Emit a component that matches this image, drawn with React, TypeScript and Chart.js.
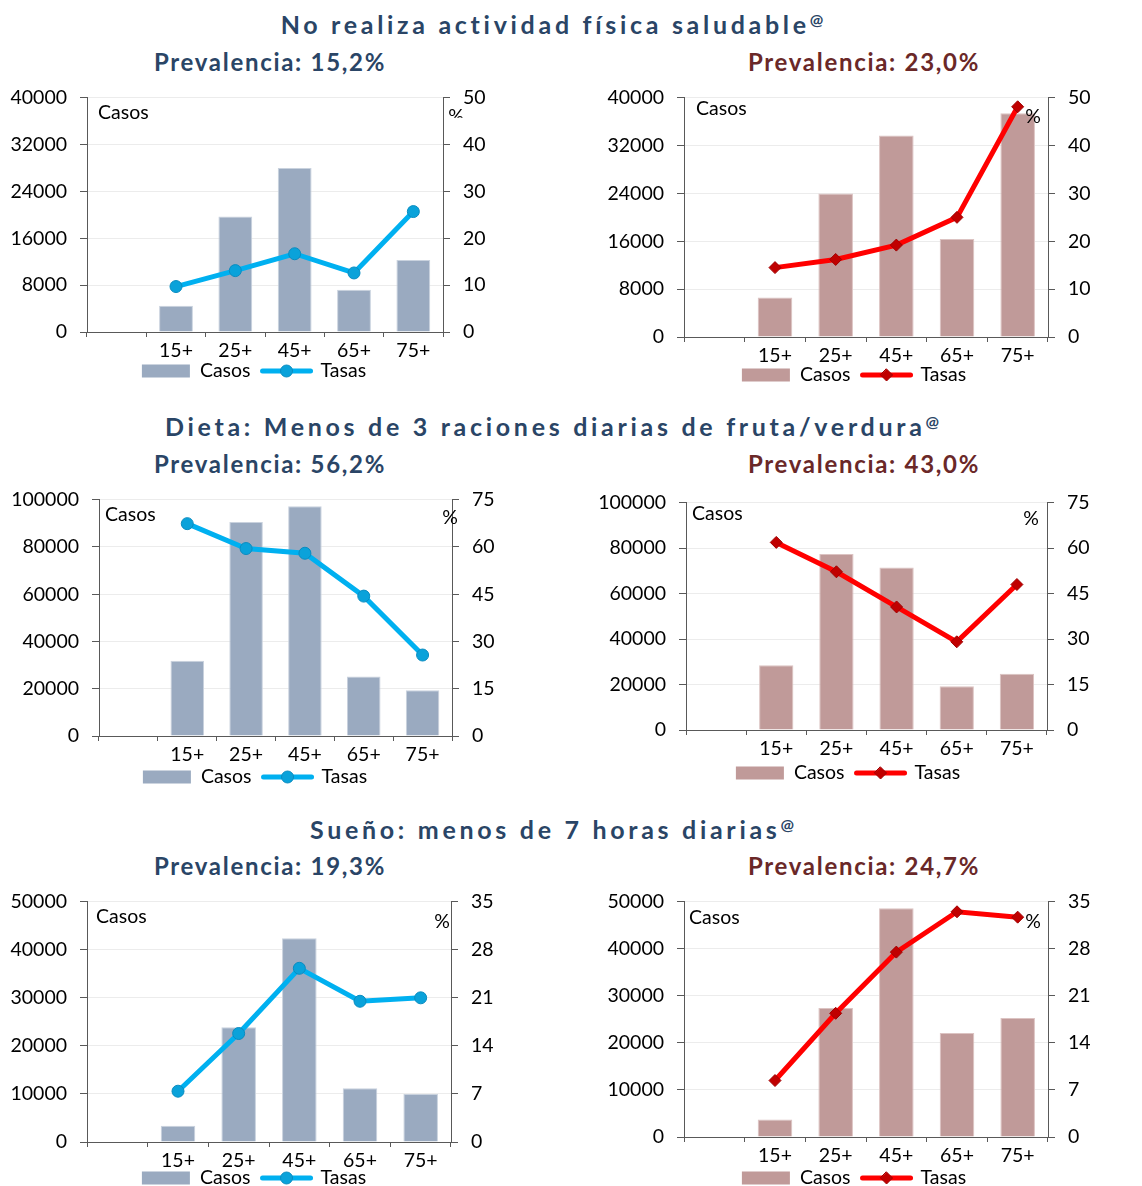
import React, { useEffect, useRef } from "react";
import { Chart, registerables } from "chart.js";

Chart.register(...registerables);

// ---------- DATA ----------
const ageGroups = ["", "15+", "25+", "45+", "65+", "75+"];

const sectionTitles = [
  "No realiza actividad física saludable",
  "Dieta: Menos de 3 raciones diarias de fruta/verdura",
  "Sueño: menos de 7 horas diarias",
];
const prevalenciaAzul = ["15,2%", "56,2%", "19,3%"];
const prevalenciaRojo = ["23,0%", "43,0%", "24,7%"];

const actividadCasosAzul = [null, 4500, 19700, 28000, 7200, 12300];
const actividadTasasAzul = [null, 9.7, 13.1, 16.7, 12.6, 25.7];
const actividadCasosRojo = [null, 6600, 24000, 33700, 16400, 37400];
const actividadTasasRojo = [null, 14.5, 16.2, 19.2, 25.0, 48.1];

const dietaCasosAzul = [null, 31800, 90600, 97200, 25200, 19400];
const dietaTasasAzul = [null, 67.4, 59.5, 58.0, 44.4, 25.7];
const dietaCasosRojo = [null, 28500, 77400, 71500, 19300, 24700];
const dietaTasasRojo = [null, 61.9, 52.2, 40.6, 29.1, 48.0];

const suenoCasosAzul = [null, 3400, 23900, 42400, 11200, 10000];
const suenoTasasAzul = [null, 7.4, 15.8, 25.3, 20.5, 21.0];
const suenoCasosRojo = [null, 3700, 27400, 48600, 22100, 25300];
const suenoTasasRojo = [null, 8.4, 18.4, 27.5, 33.5, 32.7];

const casosMax = [40000, 100000, 50000];
const casosStep = [8000, 20000, 10000];
const tasasMax = [50, 75, 35];
const tasasStep = [10, 15, 7];

const legendLabels = ["Casos", "Tasas"];

// ---------- STYLE ----------
const FONT = 'Lato, "Open Sans", sans-serif';
const AXIS = "#595959";
const GRID = "#ececec";
const BLUE_TITLE = "#2A4566";
const RED_TITLE = "#6A2828";

const schemes = {
  azul: {
    bar: "#9AAAC0",
    barBorder: "#C9D2DE",
    line: "#00B0F0",
    point: "#0AA2DA",
    pointBorder: "#0A8CC0",
    marker: "circle",
  },
  rojo: {
    bar: "#C09A99",
    barBorder: "#DCC3C2",
    line: "#FF0000",
    point: "#C00000",
    pointBorder: "#A00000",
    marker: "rectRot",
  },
};

type Layout = {
  canvasLeft: number;
  L: number;
  R: number;
  T: number;
  B: number;
  legendCx: number;
  legendDy: number;
  casosDx: number;
  casosDy: number;
  pctDx: number;
  pctDy: number;
  pctClip?: boolean;
};

const decorPlugin = {
  id: "decor",
  afterDraw(chart: any, _args: any, opts: any) {
    const ctx = chart.ctx;
    const ca = chart.chartArea;
    const sc = opts.scheme;
    ctx.save();
    ctx.fillStyle = "#000";
    ctx.font = `19.5px ${FONT}`;
    ctx.textBaseline = "middle";
    ctx.textAlign = "left";
    ctx.fillText("Casos", ca.left + opts.casosDx, ca.top + opts.casosDy);
    ctx.save();
    if (opts.pctClip) {
      ctx.beginPath();
      ctx.rect(ca.right, ca.top, 40, opts.pctDy + 1);
      ctx.clip();
    }
    ctx.textAlign = "center";
    ctx.fillText("%", ca.right + opts.pctDx, ca.top + opts.pctDy);
    ctx.restore();

    // legend
    const w1 = ctx.measureText(legendLabels[0]).width;
    const w2 = ctx.measureText(legendLabels[1]).width;
    const rectW = 48, gap = 10, lineW = 52, gap2 = 8;
    const total = rectW + gap + w1 + gap + lineW + gap2 + w2;
    let x = opts.legendCx - total / 2;
    const y = ca.bottom + opts.legendDy;
    ctx.fillStyle = sc.bar;
    ctx.fillRect(x, y - 6.5, rectW, 13);
    x += rectW + gap;
    ctx.fillStyle = "#000";
    ctx.textAlign = "left";
    ctx.fillText(legendLabels[0], x, y);
    x += w1 + gap;
    ctx.strokeStyle = sc.line;
    ctx.lineWidth = 5;
    ctx.lineCap = "round";
    ctx.beginPath();
    ctx.moveTo(x + 2, y);
    ctx.lineTo(x + lineW - 2, y);
    ctx.stroke();
    const mx = x + lineW / 2;
    ctx.fillStyle = sc.point;
    ctx.strokeStyle = sc.pointBorder;
    ctx.lineWidth = 1;
    ctx.beginPath();
    if (sc.marker === "circle") {
      ctx.arc(mx, y, 6, 0, Math.PI * 2);
    } else {
      ctx.moveTo(mx, y - 6);
      ctx.lineTo(mx + 6, y);
      ctx.lineTo(mx, y + 6);
      ctx.lineTo(mx - 6, y);
      ctx.closePath();
    }
    ctx.fill();
    ctx.stroke();
    x += lineW + gap2;
    ctx.fillStyle = "#000";
    ctx.fillText(legendLabels[1], x, y);
    ctx.restore();
  },
};

function Panel(props: {
  casos: (number | null)[];
  tasas: (number | null)[];
  row: number;
  scheme: "azul" | "rojo";
  layout: Layout;
}) {
  const ref = useRef<HTMLCanvasElement | null>(null);
  const { casos, tasas, row, scheme, layout } = props;
  const sc = schemes[scheme];
  const padTop = 20;
  const xAxisH = 30;
  const legendArea = 30;
  const rightW = 50;
  const width = layout.R + rightW - layout.canvasLeft;
  const height = layout.B - layout.T + padTop + xAxisH + legendArea;

  useEffect(() => {
    if (!ref.current) return;
    const tickFont = { family: FONT, size: 19.5 };
    const plain = (v: any) => String(v);
    const chart = new Chart(ref.current, {
      type: "bar",
      data: {
        labels: ageGroups,
        datasets: [
          {
            type: "line",
            label: legendLabels[1],
            data: tasas as any,
            yAxisID: "y1",
            borderColor: sc.line,
            borderWidth: 5,
            pointStyle: sc.marker as any,
            pointRadius: sc.marker === "circle" ? 6 : 6,
            pointBackgroundColor: sc.point,
            pointBorderColor: sc.pointBorder,
            pointBorderWidth: 1,
            tension: 0,
            order: 0,
          } as any,
          {
            type: "bar",
            label: legendLabels[0],
            data: casos as any,
            yAxisID: "y",
            backgroundColor: sc.bar,
            borderColor: sc.barBorder,
            borderWidth: 1,
            barPercentage: 0.57,
            categoryPercentage: 1,
            order: 1,
          } as any,
        ],
      },
      options: {
        animation: false,
        responsive: false,
        maintainAspectRatio: false,
        devicePixelRatio: 1,
        layout: {
          padding: { top: padTop, left: 0, right: 0, bottom: legendArea },
        },
        plugins: {
          legend: { display: false },
          title: { display: false },
          tooltip: { enabled: false },
          decor: {
            scheme: sc,
            legendCx: layout.legendCx - layout.canvasLeft,
            legendDy: layout.legendDy,
            casosDx: layout.casosDx,
            casosDy: layout.casosDy,
            pctDx: layout.pctDx,
            pctDy: layout.pctDy,
            pctClip: layout.pctClip,
          },
        } as any,
        scales: {
          x: {
            type: "category",
            offset: true,
            grid: {
              offset: true,
              drawOnChartArea: false,
              tickLength: 5,
              tickColor: AXIS,
            },
            border: { color: AXIS, width: 1 },
            ticks: {
              font: tickFont,
              color: "#000",
              padding: 2,
              maxRotation: 0,
              autoSkip: false,
            },
            afterFit: (s: any) => {
              s.height = xAxisH;
            },
          },
          y: {
            position: "left",
            min: 0,
            max: casosMax[row],
            ticks: {
              stepSize: casosStep[row],
              font: tickFont,
              color: "#000",
              padding: 13,
              callback: plain,
            },
            grid: { color: GRID, tickColor: AXIS, tickLength: 7 },
            border: { color: AXIS, width: 1 },
            afterFit: (s: any) => {
              s.width = layout.L - layout.canvasLeft;
            },
          },
          y1: {
            position: "right",
            min: 0,
            max: tasasMax[row],
            ticks: {
              stepSize: tasasStep[row],
              font: tickFont,
              color: "#000",
              padding: 13,
              callback: plain,
            },
            grid: { drawOnChartArea: false, tickColor: AXIS, tickLength: 7 },
            border: { color: AXIS, width: 1 },
            afterFit: (s: any) => {
              s.width = rightW;
            },
          },
        } as any,
      },
      plugins: [decorPlugin as any],
    });
    return () => chart.destroy();
  }, []);

  return (
    <canvas
      ref={ref}
      width={width}
      height={height}
      style={{
        position: "absolute",
        left: layout.canvasLeft,
        top: layout.T - padTop,
        width,
        height,
      }}
    />
  );
}

const layouts: Layout[] = [
  { canvasLeft: 0, L: 87, R: 443, T: 93, B: 332, legendCx: 254, legendDy: 39, casosDx: 11, casosDy: 15, pctDx: 13, pctDy: 19, pctClip: true },
  { canvasLeft: 572, L: 684, R: 1048, T: 93, B: 337, legendCx: 854, legendDy: 38, casosDx: 12, casosDy: 11, pctDx: -15, pctDy: 19 },
  { canvasLeft: 0, L: 99, R: 452, T: 495, B: 736, legendCx: 255, legendDy: 41, casosDx: 6, casosDy: 15, pctDx: -2, pctDy: 18 },
  { canvasLeft: 572, L: 686, R: 1047, T: 498, B: 730, legendCx: 848, legendDy: 43, casosDx: 6, casosDy: 11, pctDx: -16, pctDy: 16 },
  { canvasLeft: 0, L: 87, R: 451, T: 897, B: 1142, legendCx: 254, legendDy: 36, casosDx: 9, casosDy: 15, pctDx: -9, pctDy: 20 },
  { canvasLeft: 572, L: 684, R: 1048, T: 897, B: 1137, legendCx: 854, legendDy: 41, casosDx: 5, casosDy: 16, pctDx: -15, pctDy: 20 },
];

const sectionTops = [12, 414, 817];
const prevTops = [50, 452, 854];

export default function App() {
  const panels = [
    { casos: actividadCasosAzul, tasas: actividadTasasAzul, row: 0, scheme: "azul" as const },
    { casos: actividadCasosRojo, tasas: actividadTasasRojo, row: 0, scheme: "rojo" as const },
    { casos: dietaCasosAzul, tasas: dietaTasasAzul, row: 1, scheme: "azul" as const },
    { casos: dietaCasosRojo, tasas: dietaTasasRojo, row: 1, scheme: "rojo" as const },
    { casos: suenoCasosAzul, tasas: suenoTasasAzul, row: 2, scheme: "azul" as const },
    { casos: suenoCasosRojo, tasas: suenoTasasRojo, row: 2, scheme: "rojo" as const },
  ];
  return (
    <div
      style={{
        position: "absolute",
        left: 0,
        top: 0,
        width: 1142,
        height: 1186,
        overflow: "hidden",
        background: "#fff",
        fontFamily: FONT,
      }}
    >
      {sectionTitles.map((t, i) => (
        <div
          key={"s" + i}
          style={{
            position: "absolute",
            left: 552,
            top: sectionTops[i],
            transform: "translateX(-50%)",
            whiteSpace: "nowrap",
            fontWeight: 700,
            fontSize: 25,
            lineHeight: "25px",
            letterSpacing: "3.7px",
            color: BLUE_TITLE,
          }}
        >
          {t}
          <span
            style={{
              fontSize: 16,
              letterSpacing: 0,
              position: "relative",
              top: -9,
              marginLeft: 0,
            }}
          >
            @
          </span>
        </div>
      ))}
      {prevalenciaAzul.map((p, i) => (
        <div
          key={"pa" + i}
          style={{
            position: "absolute",
            left: 270,
            top: prevTops[i],
            transform: "translateX(-50%)",
            whiteSpace: "nowrap",
            fontWeight: 700,
            fontSize: 24,
            lineHeight: "24px",
            letterSpacing: "1.7px",
            color: BLUE_TITLE,
          }}
        >
          {"Prevalencia: " + p}
        </div>
      ))}
      {prevalenciaRojo.map((p, i) => (
        <div
          key={"pr" + i}
          style={{
            position: "absolute",
            left: 864,
            top: prevTops[i],
            transform: "translateX(-50%)",
            whiteSpace: "nowrap",
            fontWeight: 700,
            fontSize: 24,
            lineHeight: "24px",
            letterSpacing: "1.7px",
            color: RED_TITLE,
          }}
        >
          {"Prevalencia: " + p}
        </div>
      ))}
      {panels.map((p, i) => (
        <Panel key={i} casos={p.casos} tasas={p.tasas} row={p.row} scheme={p.scheme} layout={layouts[i]} />
      ))}
    </div>
  );
}
